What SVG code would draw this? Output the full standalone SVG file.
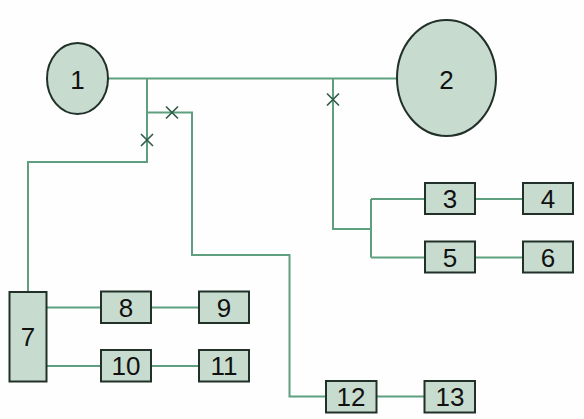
<svg xmlns="http://www.w3.org/2000/svg" width="584" height="419" viewBox="0 0 584 419">
<style>
.n{fill:#c7dccf;stroke:#22302a;stroke-width:2}
.t{font-family:"Liberation Sans",Arial,sans-serif;font-size:26px;fill:#111;text-anchor:middle;dominant-baseline:central}
.c{fill:none;stroke:#5e9f7f;stroke-width:2}
.x{fill:none;stroke:#2f5a45;stroke-width:1.6}
</style>
<rect width="584" height="419" fill="#fdfefd"/>
<g id="connectors">
<path class="c" d="M108 78.5H397"/>
<path class="c" d="M147 78.5V162H28V292"/>
<path class="c" d="M147 112.5H192V255H289.5V396.5H326"/>
<path class="c" d="M333 78.5V229H371"/>
<path class="c" d="M371 199V257.5"/>
<path class="c" d="M371 199H425M475 199H523"/>
<path class="c" d="M371 257.5H425M475 257.5H523"/>
<path class="c" d="M47 307.5H101M151 307.5H199"/>
<path class="c" d="M47 366H101M151 366H199"/>
<path class="c" d="M376.5 396.5H424.5"/>
<path class="x" d="M141 134L153 146M153 134L141 146"/>
<path class="x" d="M166 106.5L178 118.5M178 106.5L166 118.5"/>
<path class="x" d="M327 93.5L339 105.5M339 93.5L327 105.5"/>
</g>
<g id="n1"><ellipse class="n" cx="77.5" cy="78.5" rx="30.5" ry="35.5"/><text class="t" x="77.5" y="80">1</text></g>
<g id="n2"><ellipse class="n" cx="446.5" cy="78" rx="49.5" ry="58"/><text class="t" x="446.5" y="80">2</text></g>
<g id="n3"><rect class="n" x="425" y="183" width="50" height="31"/><text class="t" x="450" y="199">3</text></g>
<g id="n4"><rect class="n" x="523" y="183" width="50" height="31"/><text class="t" x="548" y="199">4</text></g>
<g id="n5"><rect class="n" x="425" y="241.5" width="50" height="31"/><text class="t" x="450" y="257.5">5</text></g>
<g id="n6"><rect class="n" x="523" y="241.5" width="50" height="31"/><text class="t" x="548" y="257.5">6</text></g>
<g id="n7"><rect class="n" x="9.5" y="292" width="37" height="89.5"/><text class="t" x="28" y="337">7</text></g>
<g id="n8"><rect class="n" x="101" y="291.5" width="50" height="31.5"/><text class="t" x="126" y="307.5">8</text></g>
<g id="n9"><rect class="n" x="199" y="291.5" width="50" height="31.5"/><text class="t" x="224" y="307.5">9</text></g>
<g id="n10"><rect class="n" x="101" y="350" width="50" height="31.5"/><text class="t" x="126" y="366">10</text></g>
<g id="n11"><rect class="n" x="199" y="350" width="50" height="31.5"/><text class="t" x="224" y="366">11</text></g>
<g id="n12"><rect class="n" x="326" y="381" width="50.5" height="31.5"/><text class="t" x="351" y="397">12</text></g>
<g id="n13"><rect class="n" x="424.5" y="381" width="50.5" height="31.5"/><text class="t" x="450" y="397">13</text></g>
</svg>
